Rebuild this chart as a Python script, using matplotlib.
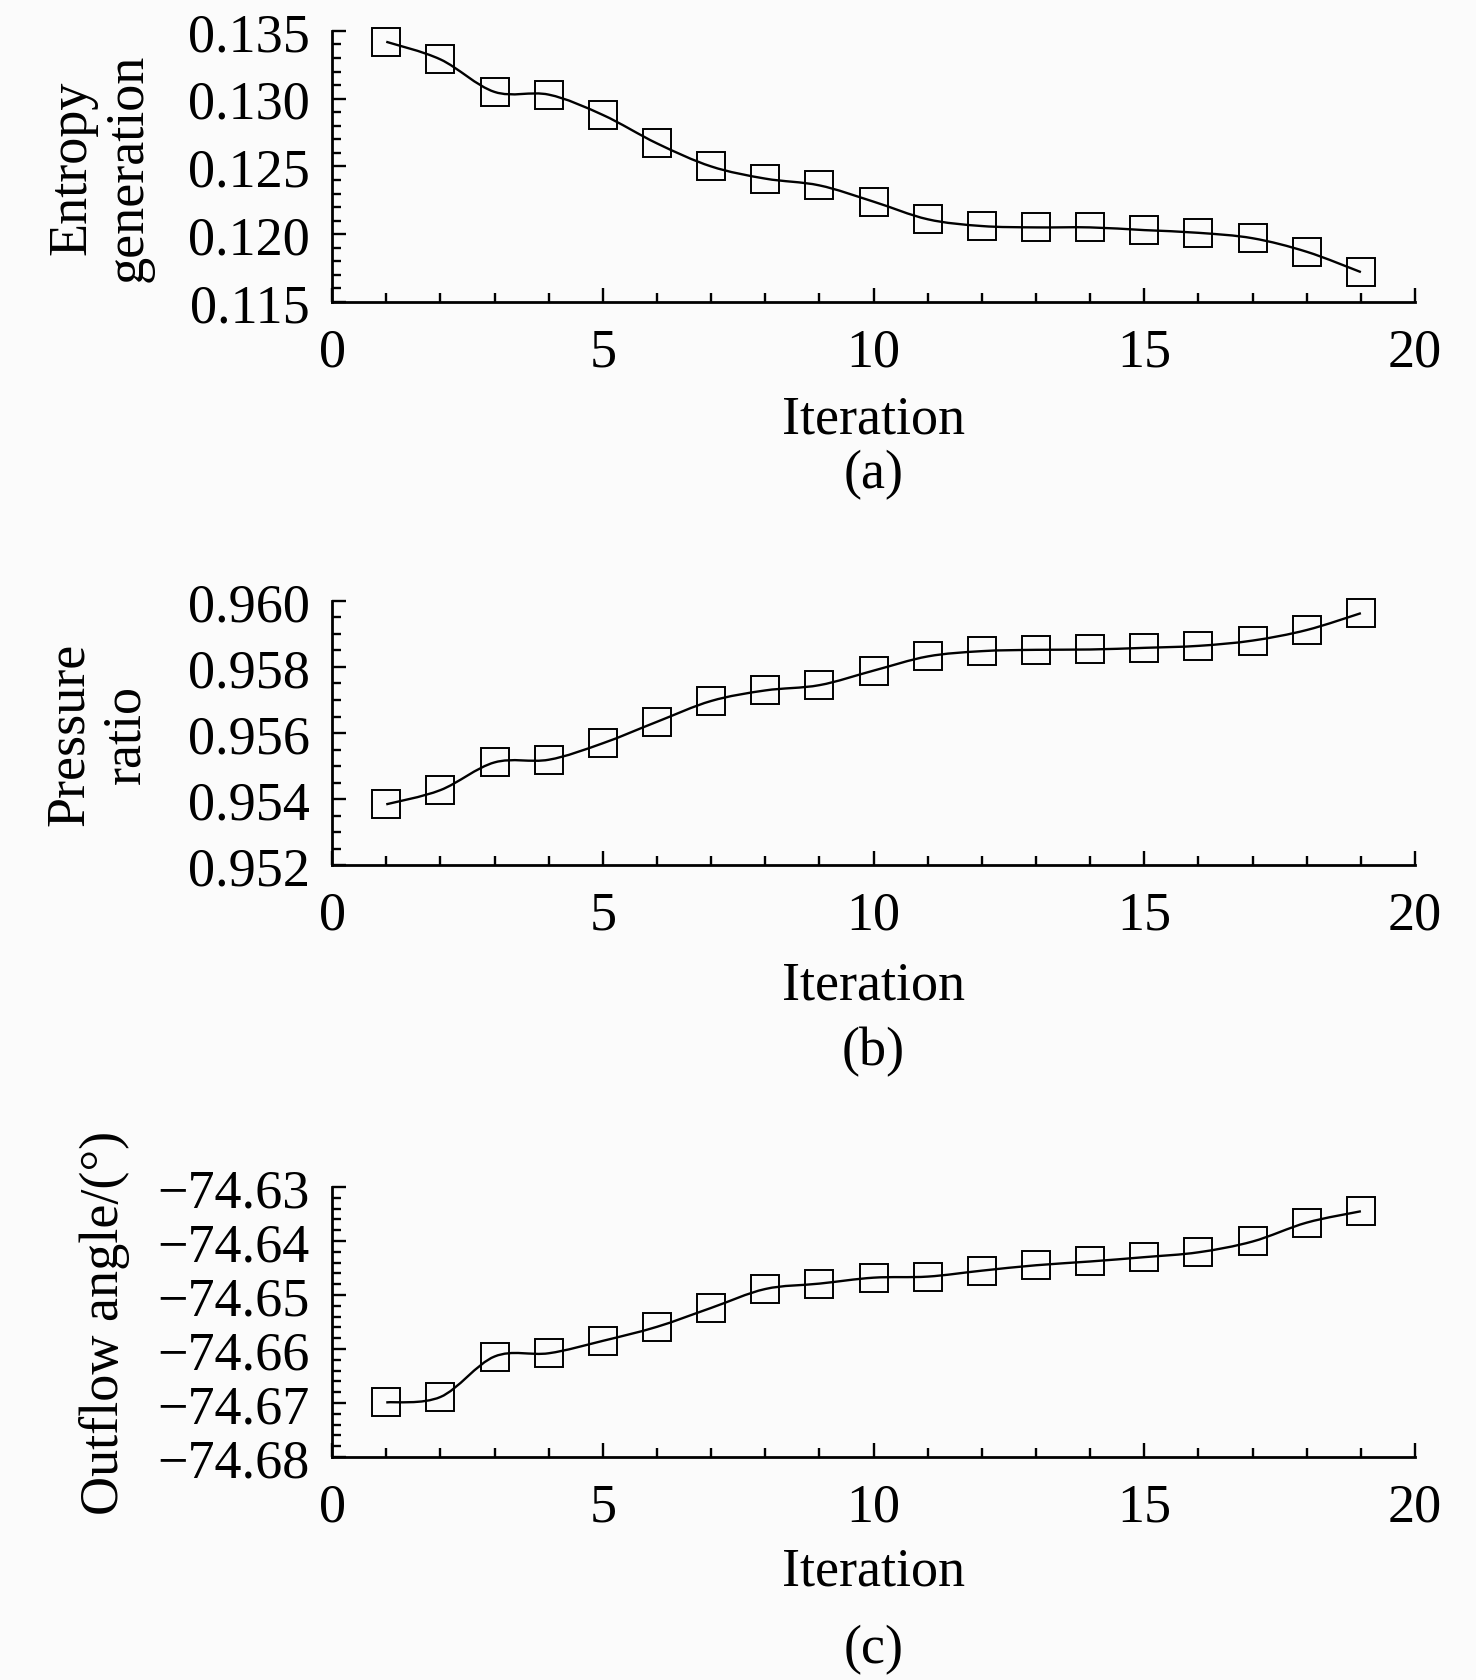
import numpy as np
import matplotlib
matplotlib.use("Agg")
import matplotlib.pyplot as plt
from matplotlib.path import Path
from matplotlib.patches import PathPatch
from matplotlib.ticker import MultipleLocator, FuncFormatter

plt.rcParams['font.family'] = ['Liberation Serif', 'DejaVu Serif']
plt.rcParams['mathtext.fontset'] = 'stix'

iteration = [1, 2, 3, 4, 5, 6, 7, 8, 9, 10, 11, 12, 13, 14, 15, 16, 17, 18, 19]
entropy_generation = [0.1342, 0.1329, 0.1305, 0.1303, 0.1288, 0.1267, 0.1250,
                      0.1241, 0.1236, 0.1224, 0.1211, 0.1206, 0.1205, 0.1205,
                      0.1203, 0.1201, 0.1197, 0.1187, 0.1172]
pressure_ratio = [0.95384, 0.95427, 0.95511, 0.95519, 0.95569, 0.95634, 0.95697,
                  0.95729, 0.95745, 0.95789, 0.95832, 0.95848, 0.95852, 0.95853,
                  0.95858, 0.95864, 0.95880, 0.95912, 0.95963]
outflow_angle = [-74.6699, -74.6689, -74.6614, -74.6608, -74.6585, -74.6559, -74.6524,
                 -74.6489, -74.6479, -74.6468, -74.6466, -74.6455, -74.6445, -74.6438,
                 -74.6430, -74.6421, -74.6401, -74.6366, -74.6345]

panels = [
    dict(y=entropy_generation, ylabel="Entropy\ngeneration", tag="(a)",
         ylim=(0.115, 0.135), major=0.005, minor=0.001, fmt="{:.3f}",
         rect=(0.225, 0.8198, 0.7337, 0.1612), lx=-0.214, lpad=12, tagoff=-106),
    dict(y=pressure_ratio, ylabel="Pressure\nratio", tag="(b)",
         ylim=(0.952, 0.960), major=0.002, minor=0.0005, fmt="{:.3f}",
         rect=(0.225, 0.4848, 0.7337, 0.1571), lx=-0.216, lpad=14, tagoff=-116),
    dict(y=outflow_angle, ylabel="Outflow angle/(°)", tag="(c)",
         ylim=(-74.68, -74.63), major=0.01, minor=0.002, fmt="{:.2f}",
         rect=(0.225, 0.1327, 0.7337, 0.1606), lx=-0.21, lpad=10, tagoff=-120),
]

W, H, DPI = 1476, 1681, 100
fig = plt.figure(figsize=(W / DPI, H / DPI), dpi=DPI, facecolor='#fbfbfb')
FS = 39


def smooth_path(x, y):
    x = np.asarray(x, float)
    y = np.asarray(y, float)
    P = np.column_stack([x, y])
    n = len(P)
    verts = [P[0]]
    codes = [Path.MOVETO]
    for i in range(n - 1):
        p0 = P[i - 1] if i > 0 else P[i]
        p1 = P[i]
        p2 = P[i + 1]
        p3 = P[i + 2] if i + 2 < n else P[i + 1]
        c1 = p1 + (p2 - p0) / 6.0
        c2 = p2 - (p3 - p1) / 6.0
        verts += [c1, c2, p2]
        codes += [Path.CURVE4] * 3
    return Path(verts, codes)


for p in panels:
    ax = fig.add_axes(p['rect'])
    ax.set_facecolor('none')
    ax.add_patch(PathPatch(smooth_path(iteration, p['y']), facecolor='none',
                           edgecolor='black', lw=1.7, zorder=2, clip_on=False))
    ax.plot(iteration, p['y'], linestyle='none', marker='s', markersize=19.5,
            markerfacecolor='none', markeredgecolor='black', markeredgewidth=1.4,
            zorder=3, clip_on=False)
    ax.set_xlim(0, 20)
    ax.set_ylim(*p['ylim'])
    for s in ('top', 'right'):
        ax.spines[s].set_visible(False)
    for s in ('left', 'bottom'):
        ax.spines[s].set_linewidth(2.0)
    ax.xaxis.set_major_locator(MultipleLocator(5))
    ax.xaxis.set_minor_locator(MultipleLocator(1))
    ax.yaxis.set_major_locator(MultipleLocator(p['major']))
    ax.yaxis.set_minor_locator(MultipleLocator(p['minor']))
    fmt = p['fmt']
    ax.yaxis.set_major_formatter(FuncFormatter(lambda v, pos, f=fmt: f.format(v).replace('-', '\u2212')))
    ax.xaxis.set_major_formatter(FuncFormatter(lambda v, pos: "%d" % round(v)))
    ax.tick_params(which='both', direction='in', width=1.7, labelsize=FS)
    ax.tick_params(which='major', length=10)
    ax.tick_params(which='minor', length=6.5)
    ax.tick_params(axis='x', which='major', pad=18)
    ax.tick_params(axis='y', which='major', pad=16)
    ax.set_xlabel("Iteration", fontsize=FS, labelpad=p['lpad'])
    ax.set_ylabel(p['ylabel'], fontsize=FS, va='center', ha='center', linespacing=1.15)
    ax.yaxis.set_label_coords(p['lx'], 0.5)
    ax.annotate(p['tag'], xy=(0.5, 0), xycoords='axes fraction',
                xytext=(0, p['tagoff']), textcoords='offset points',
                ha='center', va='top', fontsize=FS)

fig.savefig("out.png", dpi=DPI, facecolor=fig.get_facecolor())
